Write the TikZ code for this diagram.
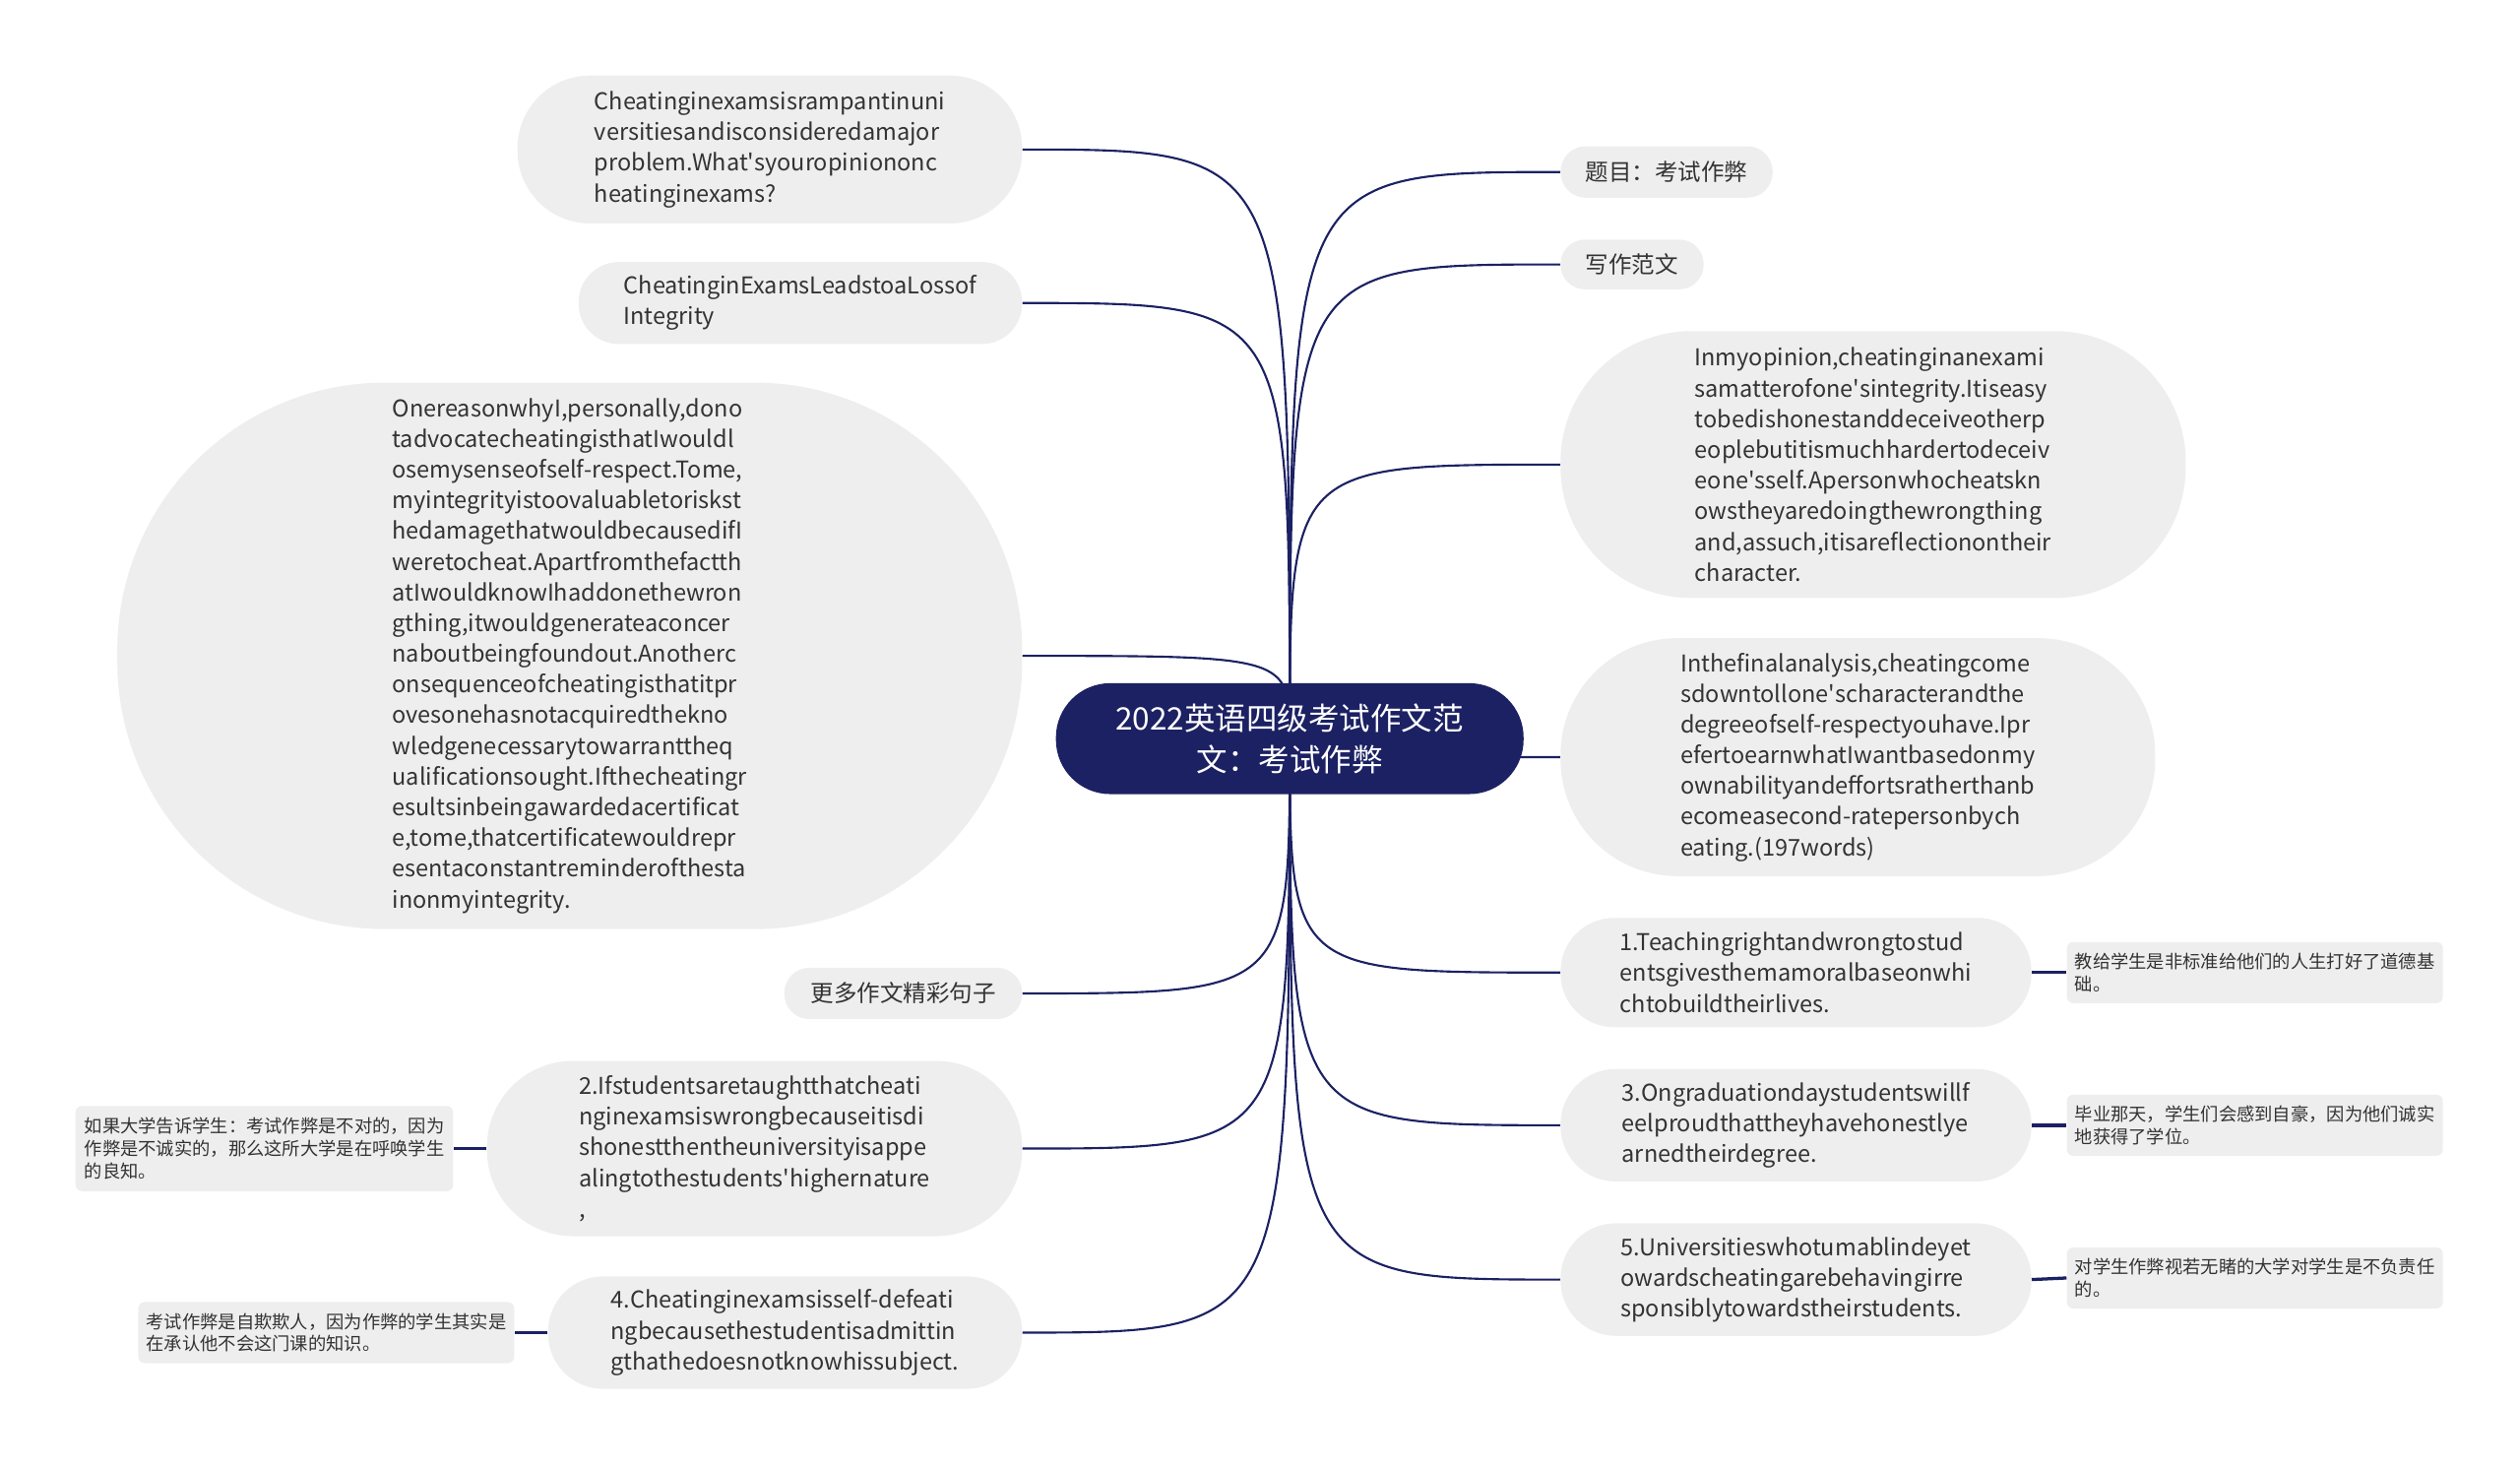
\documentclass[tikz,border=0pt]{standalone}
\usepackage{fontspec}
\setmainfont{Noto Sans CJK SC}
\usetikzlibrary{backgrounds}
\definecolor{navy}{HTML}{1C2163}
\definecolor{bubblegray}{HTML}{EEEEEE}
\definecolor{ink}{HTML}{333333}
\newcommand{\apos}{\textquotesingle}

\begin{document}
\begin{tikzpicture}[x=1pt, y=-1pt,
	bubble/.style args={#1x#2}{rectangle, fill=bubblegray, text=ink, align=left, inner sep=0pt, minimum width=#1pt, minimum height=#2pt, rounded corners=0.49*#2pt, font=\fontsize{14.4}{19.1}\selectfont},
	note/.style args={#1x#2}{rectangle, fill=bubblegray, text=ink, align=left, inner sep=0pt, minimum width=#1pt, minimum height=#2pt, rounded corners=4pt, font=\fontsize{11.2}{14}\selectfont},
	root/.style={rectangle, fill=navy, text=white, align=center, inner sep=0pt, minimum width=291pt, minimum height=69pt, rounded corners=33.8pt, font=\fontsize{19.3}{26}\selectfont},
	link/.style={navy, line width=1.3pt},
	stub/.style={navy, line width=2pt}]
		\useasboundingbox (0,0) rectangle (1568,913.2);
		\node(ROOT) at (802.5,459.5)[root]{2022英语四级考试作文范\\文：考试作弊};
		\node(Q) at (479,93)[bubble=314x92]{Cheatinginexamsisrampantinuni\\versitiesandisconsideredamajor\\problem.What\apos syouropiniononc\\heatinginexams?};
		\node(TITLE) at (498,188.5)[bubble=276x51]{CheatinginExamsLeadstoaLossof\\Integrity};
		\node(P1) at (354.5,408)[bubble=563x340]{OnereasonwhyI,personally,dono\\tadvocatecheatingisthatIwouldl\\osemysenseofself-respect.Tome,\\myintegrityistoovaluabletoriskst\\hedamagethatwouldbecausedifI\\weretocheat.Apartfromthefactth\\atIwouldknowIhaddonethewron\\gthing,itwouldgenerateaconcer\\naboutbeingfoundout.Anotherc\\onsequenceofcheatingisthatitpr\\ovesonehasnotacquiredthekno\\wledgenecessarytowarranttheq\\ualificationsought.Ifthecheatingr\\esultsinbeingawardedacertificat\\e,tome,thatcertificatewouldrepr\\esentaconstantreminderofthesta\\inonmyintegrity.};
		\node(MORE) at (562,618)[bubble=148x32]{更多作文精彩句子};
		\node(S2) at (469.5,714.5)[bubble=333x109]{2.Ifstudentsaretaughtthatcheati\\nginexamsiswrongbecauseitisdi\\shonestthentheuniversityisappe\\alingtothestudents\apos highernature\\,};
		\node(S4) at (488.5,829)[bubble=295x70]{4.Cheatinginexamsisself-defeati\\ngbecausethestudentisadmittin\\gthathedoesnotknowhissubject.};
		\node(C2) at (164.5,714.5)[note=235x53]{如果大学告诉学生：考试作弊是不对的，因为\\作弊是不诚实的，那么这所大学是在呼唤学生\\的良知。};
		\node(C4) at (203,829)[note=234x38]{考试作弊是自欺欺人，因为作弊的学生其实是\\在承认他不会这门课的知识。};
		\node(TOPIC) at (1037,107)[bubble=132x32]{题目：考试作弊};
		\node(ESSAY) at (1015.5,164.5)[bubble=89x31]{写作范文};
		\node(P2) at (1165.5,289)[bubble=389x166]{Inmyopinion,cheatinginanexami\\samatterofone\apos sintegrity.Itiseasy\\tobedishonestanddeceiveotherp\\eoplebutitismuchhardertodeceiv\\eone\apos sself.Apersonwhocheatskn\\owstheyaredoingthewrongthing\\and,assuch,itisareflectionontheir\\character.};
		\node(P3) at (1156,471)[bubble=370x148]{Inthefinalanalysis,cheatingcome\\sdowntollone\apos scharacterandthe\\degreeofself-respectyouhave.Ipr\\efertoearnwhatIwantbasedonmy\\ownabilityandeffortsratherthanb\\ecomeasecond-ratepersonbych\\eating.(197words)};
		\node(S1) at (1117.5,605)[bubble=293x68]{1.Teachingrightandwrongtostud\\entsgivesthemamoralbaseonwhi\\chtobuildtheirlives.};
		\node(S3) at (1117.5,700)[bubble=293x70]{3.Ongraduationdaystudentswillf\\eelproudthattheyhavehonestlye\\arnedtheirdegree.};
		\node(S5) at (1117.5,796)[bubble=293x70]{5.Universitieswhotumablindeyet\\owardscheatingarebehavingirre\\sponsiblytowardstheirstudents.};
		\node(C1) at (1403,605)[note=234x38]{教给学生是非标准给他们的人生打好了道德基\\础。};
		\node(C3) at (1403,700)[note=234x38]{毕业那天，学生们会感到自豪，因为他们诚实\\地获得了学位。};
		\node(C5) at (1403,795)[note=234x38]{对学生作弊视若无睹的大学对学生是不负责任\\的。};
		\begin{scope}[on background layer]
		\draw[link] (ROOT.center) .. controls (ROOT.center |- Q.east) .. (Q.east);
		\draw[link] (ROOT.center) .. controls (ROOT.center |- TITLE.east) .. (TITLE.east);
		\draw[link] (ROOT.center) .. controls (ROOT.center |- P1.east) .. (P1.east);
		\draw[link] (ROOT.center) .. controls (ROOT.center |- MORE.east) .. (MORE.east);
		\draw[link] (ROOT.center) .. controls (ROOT.center |- S2.east) .. (S2.east);
		\draw[link] (ROOT.center) .. controls (ROOT.center |- S4.east) .. (S4.east);
		\draw[link] (ROOT.center) .. controls (ROOT.center |- TOPIC.west) .. (TOPIC.west);
		\draw[link] (ROOT.center) .. controls (ROOT.center |- ESSAY.west) .. (ESSAY.west);
		\draw[link] (ROOT.center) .. controls (ROOT.center |- P2.west) .. (P2.west);
		\draw[link] (ROOT.center) .. controls (ROOT.center |- P3.west) .. (P3.west);
		\draw[link] (ROOT.center) .. controls (ROOT.center |- S1.west) .. (S1.west);
		\draw[link] (ROOT.center) .. controls (ROOT.center |- S3.west) .. (S3.west);
		\draw[link] (ROOT.center) .. controls (ROOT.center |- S5.west) .. (S5.west);
		\end{scope}
		\draw[stub] (S2.west) -- (C2.east);
		\draw[stub] (S4.west) -- (C4.east);
		\draw[stub] (S1.east) -- (C1.west);
		\draw[stub] (S3.east) -- (C3.west);
		\draw[stub] (S5.east) -- (C5.west);
	\end{tikzpicture}
\end{document}
